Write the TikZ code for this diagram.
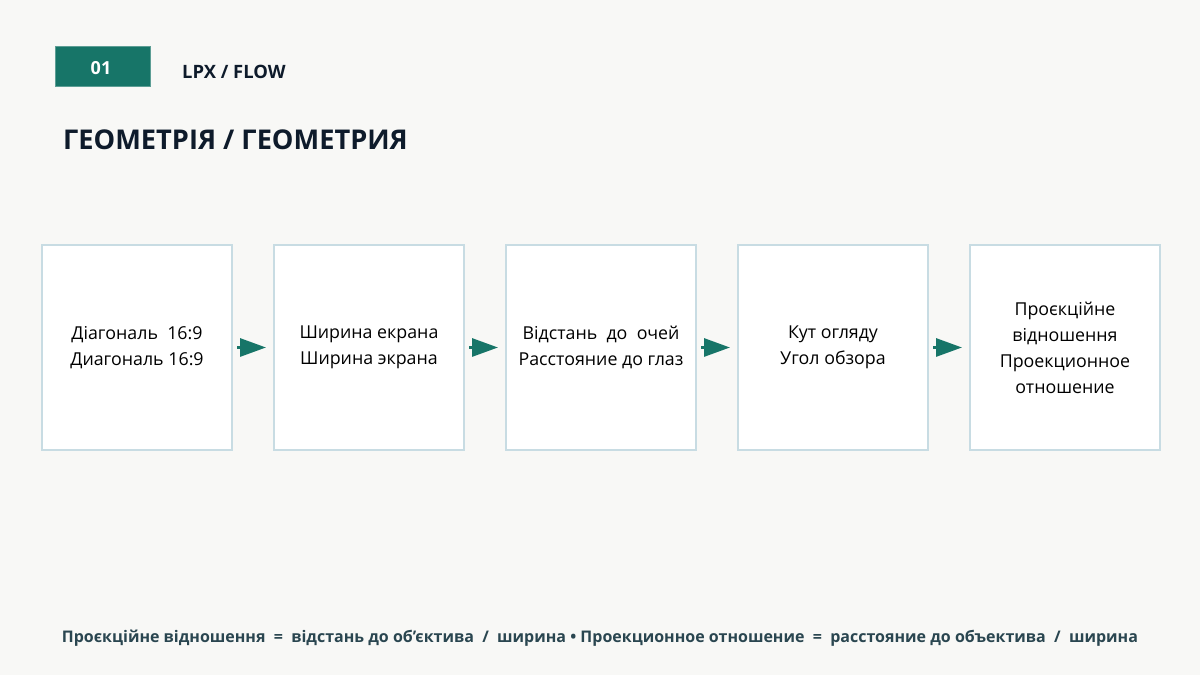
\documentclass[tikz,border=0pt]{standalone}
\usepackage{fontspec}
\setmainfont{Open Sans}
\usetikzlibrary{arrows.meta,positioning}
\definecolor{bgpaper}{HTML}{F8F8F6}
\definecolor{tealmain}{HTML}{177568}
\definecolor{boxedge}{HTML}{C8DCE3}
\definecolor{inkdark}{HTML}{0E1B2B}
\definecolor{inkslate}{HTML}{2A4650}
\tikzset{
	stagebox/.style={draw=boxedge, line width=2pt, fill=white, minimum width=190pt, minimum height=205pt,
		inner sep=0pt, outer sep=0pt, align=center, text=black, font=\fontsize{17.8}{26}\selectfont},
	flowarrow/.style={draw=tealmain, line width=3pt, -{Triangle[length=26pt,width=18pt,fill=tealmain]}}
}
\begin{document}
\begin{tikzpicture}[x=1pt,y=1pt]
	\useasboundingbox (0,0) rectangle (1200,675);
	\fill[bgpaper] (0,0) rectangle (1200,675);
	% header
	\filldraw[fill=tealmain, draw=tealmain!70!white, line width=1pt] (55,588) rectangle (150,628);
	\node[anchor=base, text=white, font=\bfseries\fontsize{18}{20}\selectfont] (tagnum) at (101,600) {01};
	\node[anchor=base west, text=inkdark, font=\bfseries\fontsize{18.4}{20}\selectfont, inner sep=0pt] (tagname) at (182,596) {LPX / FLOW};
	\node[anchor=base west, text=inkdark, font=\bfseries\fontsize{27.2}{34}\selectfont, inner sep=0pt] (title) at (63,525) {ГЕОМЕТРІЯ / ГЕОМЕТРИЯ};
	% stages
	\node[stagebox] (diag) at (137,327.5) {Діагональ~~16:9\\Диагональ 16:9};
	\node[stagebox, right=42pt of diag] (width) {Ширина екрана\\Ширина экрана};
	\node[stagebox, right=42pt of width] (dist) {Відстань~~до~~очей\\Расстояние до глаз};
	\node[stagebox, right=42pt of dist] (angle) {Кут огляду\\Угол обзора};
	\node[stagebox, right=42pt of angle] (ratio) {Проєкційне\\відношення\\Проекционное\\отношение};
	\draw[flowarrow] ([xshift=5pt]diag.east) -- ([xshift=-8pt]width.west);
	\draw[flowarrow] ([xshift=5pt]width.east) -- ([xshift=-8pt]dist.west);
	\draw[flowarrow] ([xshift=5pt]dist.east) -- ([xshift=-8pt]angle.west);
	\draw[flowarrow] ([xshift=5pt]angle.east) -- ([xshift=-8pt]ratio.west);
	% formula
	\node[anchor=base, text=inkslate, font=\bfseries\fontsize{16}{18}\selectfont, inner sep=0pt] (formula) at (600,32)
		{Проєкційне відношення~ =~ відстань до об’єктива~ /~ ширина • Проекционное отношение~ =~ расстояние до объектива~ /~ ширина};
\end{tikzpicture}
\end{document}
